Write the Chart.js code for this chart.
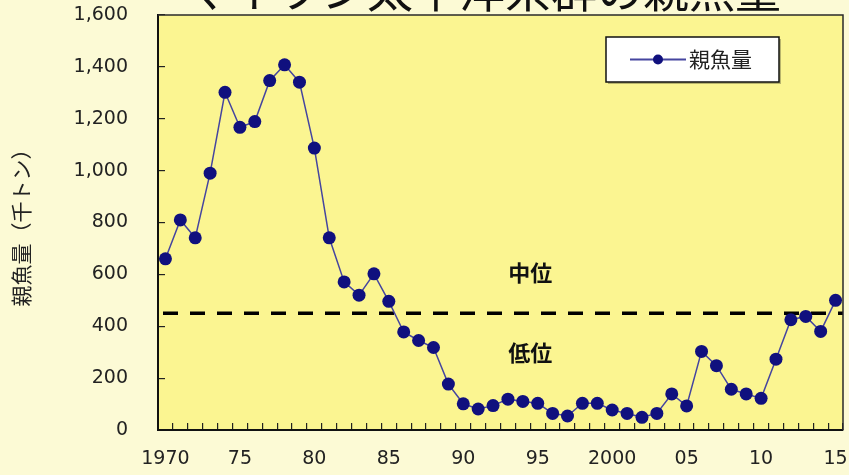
<!DOCTYPE html>
<html>
<head>
<meta charset="utf-8">
<script src="https://cdn.jsdelivr.net/npm/chart.js@4/dist/chart.umd.min.js"></script>
<style>
  html, body { margin: 0; padding: 0; background: #FCFAD5; overflow: hidden; }
  #wrap { width: 849px; height: 475px; }
</style>
</head>
<body>
<div id="wrap"><canvas id="c" width="849" height="475"></canvas></div>
<script>
// Spawning stock biomass of the Pacific stock of Japanese sardine (thousand tonnes)
const years = [
  1970, 1971, 1972, 1973, 1974, 1975, 1976, 1977, 1978, 1979,
  1980, 1981, 1982, 1983, 1984, 1985, 1986, 1987, 1988, 1989,
  1990, 1991, 1992, 1993, 1994, 1995, 1996, 1997, 1998, 1999,
  2000, 2001, 2002, 2003, 2004, 2005, 2006, 2007, 2008, 2009,
  2010, 2011, 2012, 2013, 2014, 2015
];
const spawningBiomass = [
  660, 810, 741, 990, 1302, 1167, 1189, 1347, 1408, 1341,
  1087, 741, 571, 520, 602, 496, 378, 345, 318, 177,
  101, 81, 94, 119, 110, 103, 64, 54, 103, 103,
  77, 64, 49, 64, 139, 93, 303, 248, 157, 139,
  122, 273, 425, 438, 380, 500
];
const tickYears  = [1970, 1975, 1980, 1985, 1990, 1995, 2000, 2005, 2010, 2015];
const tickLabels = ['1970', '75', '80', '85', '90', '95', '2000', '05', '10', '15'];
const levelBoundary = 450;   // border between 中位 and 低位
const levelNames = ['中位', '低位'];

const chartTitle = 'マイワシ太平洋系群の親魚量';
const seriesName = '親魚量';
const yAxisTitle = '親魚量（千トン）';

const CJK = '"Noto Sans CJK JP", "Noto Sans CJK SC", sans-serif';
const NUM = '"DejaVu Sans", "Liberation Sans", sans-serif';

const plotStyle = {
  pageBg: '#FCFAD5',
  plotBg: '#FBF591',
  line: '#45459F',
  point: '#10107E'
};

// the axes keep their labels inside the fixed margins
function noOverhang(scale) {
  scale.paddingTop = 0;
  scale.paddingBottom = 0;
  scale.paddingLeft = 0;
  scale.paddingRight = 0;
}

// page and plot backgrounds, plot frame
const backdrop = {
  id: 'backdrop',
  beforeDraw(chart) {
    const { ctx, chartArea: a } = chart;
    ctx.save();
    ctx.fillStyle = plotStyle.pageBg;
    ctx.fillRect(0, 0, chart.width, chart.height);
    ctx.fillStyle = plotStyle.plotBg;
    ctx.fillRect(a.left, a.top, a.right - a.left, a.bottom - a.top);
    ctx.restore();
  },
  afterDatasetsDraw(chart) {
    const { ctx, chartArea: a } = chart;
    ctx.save();
    ctx.strokeStyle = '#2a2a2a';
    ctx.lineWidth = 1.5;
    ctx.beginPath();
    ctx.moveTo(a.left, a.top);
    ctx.lineTo(a.right, a.top);
    ctx.lineTo(a.right, a.bottom);
    ctx.stroke();
    ctx.restore();
  }
};

// heading along the top edge
const heading = {
  id: 'heading',
  afterDraw(chart) {
    const { ctx } = chart;
    ctx.save();
    ctx.font = '46px ' + CJK;
    ctx.fillStyle = '#111';
    ctx.textAlign = 'center';
    ctx.textBaseline = 'ideographic';
    ctx.fillText(chartTitle, 482, 13);
    ctx.restore();
  }
};

// dashed boundary line and the level names above / below it
const levels = {
  id: 'levels',
  beforeDatasetsDraw(chart) {
    const { ctx, chartArea: a, scales: { x, y } } = chart;
    const yb = y.getPixelForValue(levelBoundary);
    ctx.save();
    ctx.strokeStyle = '#000';
    ctx.lineWidth = 3.5;
    ctx.setLineDash([15, 12]);
    ctx.beginPath();
    ctx.moveTo(a.left + 5, yb);
    ctx.lineTo(a.right, yb);
    ctx.stroke();
    ctx.setLineDash([]);

    const xi = years.indexOf(1994);
    const xc = (x.getPixelForValue(xi) + x.getPixelForValue(xi + 1)) / 2;
    ctx.font = 'bold 22px ' + CJK;
    ctx.fillStyle = '#111';
    ctx.textAlign = 'center';
    ctx.textBaseline = 'middle';
    ctx.fillText(levelNames[0], xc, yb - 41);
    ctx.fillText(levelNames[1], xc, yb + 39);
    ctx.restore();
  }
};

// boxed legend in the upper right of the plot
const boxLegend = {
  id: 'boxLegend',
  afterDraw(chart) {
    const { ctx, chartArea: a } = chart;
    const ds = chart.data.datasets[0];
    const w = 173, h = 45;
    const bx = a.right - 64 - w, by = a.top + 22;
    ctx.save();
    ctx.fillStyle = 'rgba(60,60,40,0.35)';
    ctx.fillRect(bx + 2, by + 2, w, h);
    ctx.fillStyle = '#fff';
    ctx.fillRect(bx, by, w, h);
    ctx.strokeStyle = '#111';
    ctx.lineWidth = 1.5;
    ctx.strokeRect(bx, by, w, h);
    const ly = by + h / 2;
    ctx.strokeStyle = ds.borderColor;
    ctx.lineWidth = 2;
    ctx.beginPath();
    ctx.moveTo(bx + 24, ly);
    ctx.lineTo(bx + 80, ly);
    ctx.stroke();
    ctx.fillStyle = ds.pointBackgroundColor;
    ctx.beginPath();
    ctx.arc(bx + 52, ly, 5, 0, Math.PI * 2);
    ctx.fill();
    ctx.fillStyle = '#222';
    ctx.font = '21px ' + CJK;
    ctx.textAlign = 'left';
    ctx.textBaseline = 'middle';
    ctx.fillText(ds.label, bx + 83, ly);
    ctx.restore();
  }
};

new Chart(document.getElementById('c'), {
  type: 'line',
  data: {
    labels: years,
    datasets: [{
      label: seriesName,
      data: spawningBiomass,
      borderColor: plotStyle.line,
      borderWidth: 1.5,
      pointBackgroundColor: plotStyle.point,
      pointBorderColor: plotStyle.point,
      pointRadius: 6.5,
      pointBorderWidth: 0,
      tension: 0,
      fill: false
    }]
  },
  options: {
    responsive: false,
    devicePixelRatio: 1,
    animation: false,
    events: [],
    layout: { autoPadding: false, padding: { top: 15, right: 6, left: 0, bottom: 0 } },
    plugins: {
      legend: { display: false },
      title: { display: false },
      tooltip: { enabled: false }
    },
    scales: {
      x: {
        type: 'category',
        offset: true,
        grid: {
          offset: true,
          drawOnChartArea: false,
          drawTicks: true,
          tickLength: -7,
          color: '#222',
          lineWidth: 1.2
        },
        border: { display: true, color: '#111', width: 2 },
        ticks: {
          autoSkip: false,
          maxRotation: 0,
          minRotation: 0,
          padding: 25,
          color: '#222',
          font: { family: NUM, size: 19 },
          callback(value, index) {
            const k = tickYears.indexOf(years[index]);
            return k >= 0 ? tickLabels[k] : '';
          }
        },
        afterFit(scale) { scale.height = 45; noOverhang(scale); }
      },
      y: {
        min: 0,
        max: 1600,
        grid: {
          drawOnChartArea: false,
          drawTicks: true,
          tickLength: -7,
          color: '#222',
          lineWidth: 1.2
        },
        border: { display: true, color: '#111', width: 2 },
        ticks: {
          stepSize: 200,
          padding: 37,
          color: '#222',
          font: { family: NUM, size: 19 },
          callback(value) { return value.toLocaleString('en-US'); }
        },
        title: {
          display: true,
          text: yAxisTitle,
          color: '#222',
          font: { family: CJK, size: 21 },
          padding: { top: 8, bottom: 0 }
        },
        afterFit(scale) { scale.width = 158; noOverhang(scale); }
      }
    }
  },
  plugins: [backdrop, levels, heading, boxLegend]
});
</script>
</body>
</html>
